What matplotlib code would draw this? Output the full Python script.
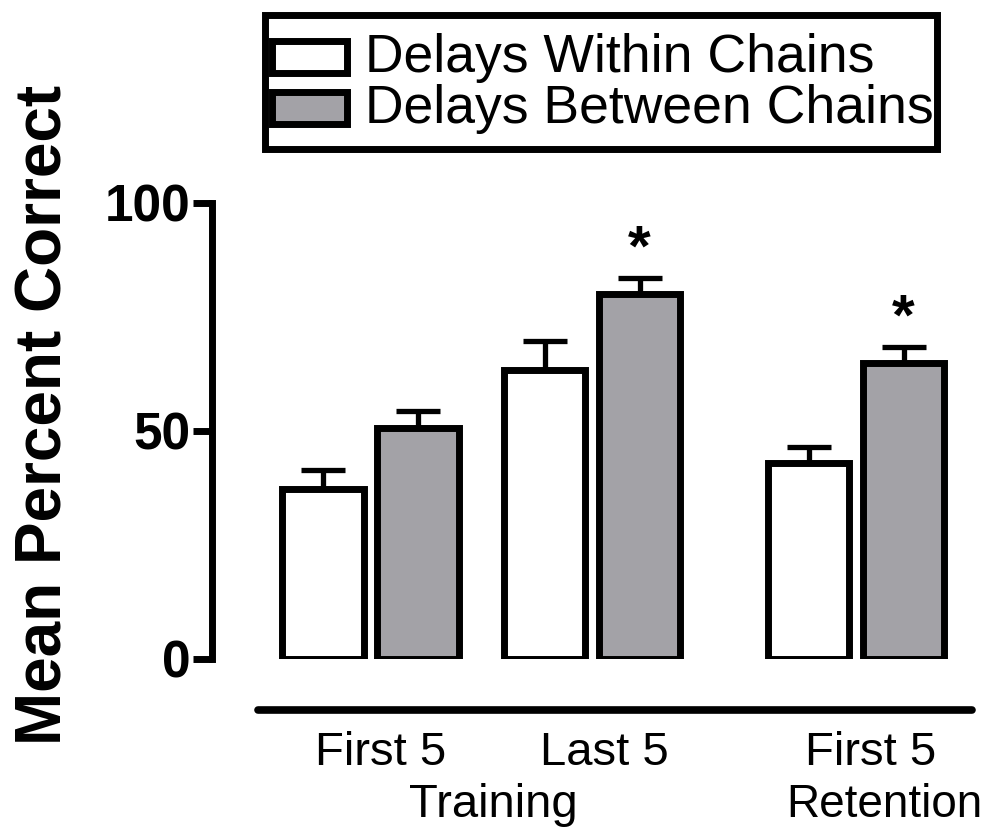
import matplotlib
matplotlib.use("Agg")
import matplotlib.pyplot as plt
import numpy as np
from matplotlib.patches import Rectangle
from matplotlib.lines import Line2D

plt.rcParams['font.family'] = ['Liberation Sans', 'DejaVu Sans']

# ---- data ----
periods = ["First 5", "Last 5", "First 5"]
phases = ["Training", "Retention"]
series_names = ["Delays Within Chains", "Delays Between Chains"]
within_mean = [37.3, 63.4, 42.9]
within_sem = [4.2, 6.3, 3.6]
between_mean = [50.7, 80.0, 65.0]
between_sem = [3.7, 3.6, 3.5]
significant = [False, True, True]   # star above the "between" bar
y_ticks = [0, 50, 100]

# ---- layout ----
W, H = 987, 833
fig = plt.figure(figsize=(W / 100, H / 100), dpi=100)

def fx(x):
    return x / W

def fy(y):
    return 1 - y / H

ax_l, ax_r, ax_t, ax_b = 212, 975, 203, 659
ax = fig.add_axes([fx(ax_l), fy(ax_b), fx(ax_r) - fx(ax_l), fy(ax_t) - fy(ax_b)])

group_x = np.array([0.0, 1.0, 2.192])
bw = 0.366
off = 0.2144
gray = "#A3A2A7"
lw = 5.0

b1 = ax.bar(group_x - off, within_mean, bw, color="white", edgecolor="black",
            linewidth=lw, zorder=3, label=series_names[0])
b2 = ax.bar(group_x + off, between_mean, bw, color=gray, edgecolor="black",
            linewidth=lw, zorder=3, label=series_names[1])
for xs, m, e in [(group_x - off, within_mean, within_sem),
                 (group_x + off, between_mean, between_sem)]:
    ax.errorbar(xs, m, yerr=[np.zeros(len(e)), e], fmt="none", ecolor="black",
                elinewidth=3.8, capsize=16, capthick=3.8, zorder=2, clip_on=False)

for x, m, e, s in zip(group_x + off, between_mean, between_sem, significant):
    if s:
        ax.annotate("*", xy=(x, m + e), xytext=(0, 0), textcoords="offset points",
                    ha="center", va="bottom", fontsize=42, fontweight="bold",
                    annotation_clip=False)

ax.set_xlim(-0.7156, 2.729)
ax.set_ylim(0, 100)
ax.set_yticks(y_ticks)
ax.set_yticklabels([str(t) for t in y_ticks], fontsize=37, fontweight="bold")
ax.tick_params(axis="y", length=13.5, width=lw, pad=2)
ax.set_xticks([])
for sp in ["top", "right", "bottom"]:
    ax.spines[sp].set_visible(False)
ax.spines["left"].set_linewidth(lw)
ax.patch.set_alpha(0)

# separate baseline below the bars
fig.add_artist(Line2D([fx(258), fx(972)], [fy(710), fy(710)], color="black",
                      linewidth=5.5, solid_capstyle="round"))

# period labels (under each group) and phase labels
for xp, name in zip([381, 604, 871], periods):
    fig.text(fx(xp), fy(765), name, ha="center", va="baseline", fontsize=34)
fig.text(fx(493), fy(817), phases[0], ha="center", va="baseline", fontsize=34)
fig.text(fx(884), fy(817), phases[1], ha="center", va="baseline", fontsize=33)

# y label
fig.text(fx(45), fy(415), "Mean Percent Correct", rotation=90, ha="center",
         va="center", fontsize=46, fontweight="bold")

# legend (manual box)
fig.add_artist(Rectangle((fx(265), fy(149)), fx(937) - fx(265), fy(15) - fy(149),
                         transform=fig.transFigure, facecolor="white",
                         edgecolor="black", linewidth=lw))
rows = [(56.5, 72, "white"), (107.5, 123, gray)]
for (yc, yb, col), name in zip(rows, series_names):
    fig.add_artist(Rectangle((fx(271.5), fy(yc + 16)), fx(346.5) - fx(271.5),
                             fy(yc - 16) - fy(yc + 16), transform=fig.transFigure,
                             facecolor=col, edgecolor="black", linewidth=lw))
    fig.text(fx(365), fy(yb), name, ha="left", va="baseline", fontsize=38.5)

fig.savefig("out.png", dpi=100)
